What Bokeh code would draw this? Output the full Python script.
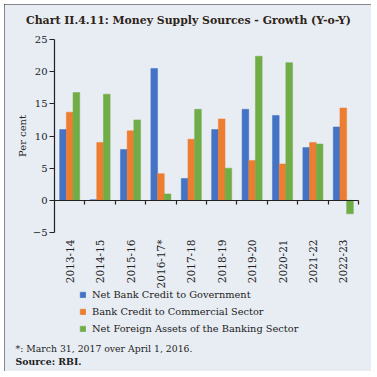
from bokeh.plotting import figure
from bokeh.models import (Legend, LegendItem, Label, FixedTicker, Range1d, LinearAxis,
                          CustomJSTickFormatter, ColumnDataSource)
from bokeh.transform import dodge
from bokeh.embed import file_html
from bokeh.resources import INLINE

years = ["2013-14", "2014-15", "2015-16", "2016-17*", "2017-18", "2018-19",
         "2019-20", "2020-21", "2021-22", "2022-23"]
govt = [11.0, 0.1, 7.9, 20.5, 3.4, 11.0, 14.15, 13.2, 8.2, 11.4]
commercial = [13.7, 9.0, 10.8, 4.15, 9.5, 12.65, 6.2, 5.65, 9.0, 14.35]
foreign = [16.75, 16.5, 12.5, 1.0, 14.15, 5.0, 22.4, 21.4, 8.75, -2.1]
series_keys = ["govt", "commercial", "foreign"]
series_names = ["Net Bank Credit to Government", "Bank Credit to Commercial Sector",
                "Net Foreign Assets of the Banking Sector"]
colors = ["#4472C4", "#ED7D31", "#70AD47"]
y_ticks = [-5, 0, 5, 10, 15, 20, 25]
y_min, y_max = -5, 25

BG = "#E8EDF3"
FONT = "DejaVu Serif"
INK = "#222"

# canvas layout (pixels)
W = H = 367
PL, PR, PT, PB = 50, 13, 35, 139
n = len(years)
px_x = (W - PL - PR) / n
px_y = (H - PT - PB) / (y_max - y_min)

centers = [i + 0.5 for i in range(n)]
src = ColumnDataSource(dict(x=centers, govt=govt, commercial=commercial, foreign=foreign))

p = figure(width=W, height=H,
           x_range=Range1d(-PL / px_x, n + PR / px_x),
           y_range=Range1d(y_min - PB / px_y, y_max + PT / px_y),
           output_backend="svg", toolbar_location=None, min_border=0,
           x_axis_type=None, y_axis_type=None)
p.title = None
p.background_fill_color = BG
p.border_fill_color = BG
p.outline_line_color = None
p.grid.visible = False
p.styles = {"margin": "4px", "outline": "1.5px solid #222", "outline-offset": "-1px"}

bw = 0.22
renderers = []
for key, off, col in zip(series_keys, [-bw, 0, bw], colors):
    r = p.vbar(x=dodge("x", off), top=key, bottom=0, width=bw, source=src,
               fill_color=col, line_color=col, line_width=0.5)
    renderers.append(r)

# y axis at left edge of the category area
ya = LinearAxis(fixed_location=0, bounds=(y_min, y_max), ticker=FixedTicker(ticks=y_ticks))
ya.minor_tick_line_color = None
ya.major_tick_in = 0
ya.major_tick_out = 5
ya.axis_line_color = INK
ya.axis_line_width = 1.2
ya.major_tick_line_color = INK
ya.major_tick_line_width = 1.2
ya.major_label_text_font = FONT
ya.major_label_text_font_size = "10px"
ya.major_label_text_color = INK
ya.major_label_standoff = 2
ya.axis_label = "Per cent"
ya.axis_label_text_font = FONT
ya.axis_label_text_font_style = "normal"
ya.axis_label_text_font_size = "10px"
ya.axis_label_text_color = INK
ya.axis_label_standoff = 2
p.add_layout(ya, "left")

# zero line with category separator ticks
za = LinearAxis(fixed_location=0, bounds=(0, n), ticker=FixedTicker(ticks=list(range(1, n + 1))))
za.formatter = CustomJSTickFormatter(code="return '';")
za.minor_tick_line_color = None
za.major_tick_in = 0
za.major_tick_out = 4
za.axis_line_color = INK
za.axis_line_width = 1.2
za.major_tick_line_color = INK
za.major_tick_line_width = 1.2
p.add_layout(za, "below")

# category labels under the plot area
xa = LinearAxis(fixed_location=y_min, ticker=FixedTicker(ticks=centers))
xa.formatter = CustomJSTickFormatter(args=dict(labels=years),
                                     code="return labels[Math.round(tick - 0.5)] || '';")
xa.axis_line_color = None
xa.major_tick_line_color = None
xa.minor_tick_line_color = None
xa.major_label_orientation = 1.5708
xa.major_label_text_font = FONT
xa.major_label_text_font_size = "10.5px"
xa.major_label_text_color = INK
xa.major_label_standoff = 1
p.add_layout(xa, "below")

legend = Legend(items=[LegendItem(label=nm, renderers=[r]) for nm, r in zip(series_names, renderers)],
                location=(75, 36), orientation="vertical", background_fill_alpha=0,
                border_line_color=None, padding=0, margin=0, spacing=4,
                glyph_width=7, glyph_height=7, label_height=13, label_standoff=6,
                label_text_font=FONT, label_text_font_size="9.8px", label_text_color=INK)
p.add_layout(legend, "center")

p.add_layout(Label(x=184, y=351, x_units="screen", y_units="screen",
                   text="Chart II.4.11: Money Supply Sources - Growth (Y-o-Y)",
                   text_font=FONT, text_font_style="bold", text_font_size="10.9px",
                   text_color="#2e2418", text_align="center", text_baseline="middle"))
p.add_layout(Label(x=11, y=23, x_units="screen", y_units="screen",
                   text="*: March 31, 2017 over April 1, 2016.",
                   text_font=FONT, text_font_size="9.3px", text_color=INK,
                   text_baseline="middle"))
p.add_layout(Label(x=11, y=10.5, x_units="screen", y_units="screen",
                   text="Source: RBI.", text_font=FONT, text_font_style="bold",
                   text_font_size="9.3px", text_color=INK, text_baseline="middle"))

open("out.html", "w").write(file_html(p, INLINE))
